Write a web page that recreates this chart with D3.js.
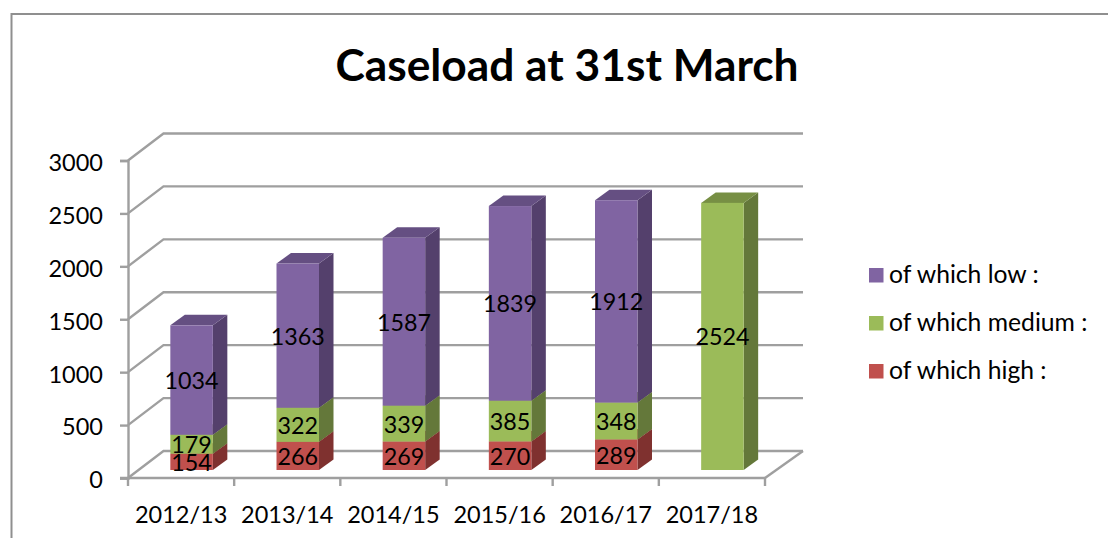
<!DOCTYPE html>
<html><head><meta charset="utf-8">
<script src="https://cdn.jsdelivr.net/npm/d3@7/dist/d3.min.js"></script>
<style>html,body{margin:0;padding:0;background:#fff}svg{display:block}text{font-family:Lato,Carlito,sans-serif;fill:#000}</style>
</head><body><svg id="c" width="1108" height="538"></svg>
<script>
const title = "Caseload at 31st March";
const categories = ["2012/13","2013/14","2014/15","2015/16","2016/17","2017/18"];
const high = [154,266,269,270,289,0];
const medium = [179,322,339,385,348,2524];
const low = [1034,1363,1587,1839,1912,0];
const yTicks = [0,500,1000,1500,2000,2500,3000];
const seriesNames = {low:"of which low :",medium:"of which medium :",high:"of which high :"};
const legendOrder = ["low","medium","high"];
const colors = {
  low:{front:"#8064A2",side:"#54406C",top:"#654F82"},
  medium:{front:"#9BBB59",side:"#64783A",top:"#778F44"},
  high:{front:"#C0504D",side:"#7F312F",top:"#983F3D"}
};

const svg = d3.select("#c");
const W=1108,H=538;
const axisCol="#9f9f9f", frameCol="#8f8f8f";
const x = d3.scaleBand().domain(categories).range([128,765]).padding(0);
const y = d3.scaleLinear().domain([0,3000]).range([478,160.5]);
const wallDx=35.5, wallDy=-27;
const barW=42.5, barOffX=10.5, barOffY=-8, depthX=14.5, depthY=-10.5;

// frame
svg.append("path").attr("d",`M11.5 ${H} V14 H${W}`).attr("fill","none").attr("stroke",frameCol).attr("stroke-width",2);

// title
svg.append("text").attr("x",567).attr("y",81).attr("text-anchor","middle")
  .attr("font-size",44.3).attr("font-weight",700).text(title);

// grid
const grid=svg.append("g").attr("fill","none").attr("stroke",axisCol).attr("stroke-width",2.4);
yTicks.forEach(t=>{
  grid.append("path").attr("d",`M${x.range()[0]} ${y(t)} L${x.range()[0]+wallDx} ${y(t)+wallDy} H${x.range()[1]+38}`);
});
grid.append("path").attr("d",`M${x.range()[1]} ${y(0)} L${x.range()[1]+38} ${y(0)+wallDy}`);

// axes
const axY=svg.append("g").attr("transform",`translate(${x.range()[0]},0)`)
  .call(d3.axisLeft(y).tickValues(yTicks).tickSize(8).tickPadding(17).tickFormat(d3.format("d")));
const axX=svg.append("g").attr("transform",`translate(0,${y(0)})`)
  .call(d3.axisBottom(x).tickSize(0).tickPadding(20));
[axY,axX].forEach(a=>{
  a.selectAll("path,line").attr("stroke",axisCol).attr("stroke-width",2.4);
  a.selectAll("text").attr("font-family","Lato,sans-serif").attr("fill","#000");
});
axX.select(".domain").attr("d",`M120 0 H${x.range()[1]}`);
const tickX=categories.map(c=>x(c)).concat(x.range()[1]);
axX.selectAll(".bt").data(tickX).enter().append("line").attr("class","bt")
  .attr("x1",d=>d).attr("x2",d=>d).attr("y1",0).attr("y2",8).attr("stroke",axisCol).attr("stroke-width",2.4);
axX.selectAll(".tick text").attr("font-size",23.5).attr("dy","1.05em");
axY.selectAll(".tick text").attr("font-size",23.5).attr("dy","0.42em");

// bars
const rows=categories.map((c,i)=>({cat:c,high:high[i],medium:medium[i],low:low[i]}));
const stack=d3.stack().keys(["high","medium","low"])(rows);
const gBars=svg.append("g"), gLabels=svg.append("g");
stack.forEach(s=>{
  const col=colors[s.key];
  s.forEach(d=>{
    const v=d[1]-d[0]; if(!v) return;
    const x0=x(d.data.cat)+x.bandwidth()/2+barOffX-barW/2, x1=x0+barW;
    const yB=y(d[0])+barOffY, yT=y(d[1])+barOffY;
    gBars.append("path").attr("fill",col.side)
      .attr("d",`M${x1} ${yB} L${x1+depthX} ${yB+depthY} V${yT+depthY} L${x1} ${yT}Z`);
    gBars.append("path").attr("fill",col.top)
      .attr("d",`M${x0} ${yT} L${x0+depthX} ${yT+depthY} H${x1+depthX} L${x1} ${yT}Z`);
    gBars.append("rect").attr("x",x0).attr("y",yT).attr("width",barW).attr("height",yB-yT).attr("fill",col.front);
    gLabels.append("text").attr("x",(x0+x1)/2).attr("y",(yB+yT)/2+9).attr("text-anchor","middle")
      .attr("font-size",23.3).text(v);
  });
});

// legend
const legY=d3.scalePoint().domain(legendOrder).range([275,371]);
legendOrder.forEach(k=>{
  svg.append("rect").attr("x",869).attr("y",legY(k)-7).attr("width",14.5).attr("height",14.5).attr("fill",colors[k].front);
  svg.append("text").attr("x",889).attr("y",legY(k)+8).attr("font-size",24.7).text(seriesNames[k]);
});
</script></body></html>
